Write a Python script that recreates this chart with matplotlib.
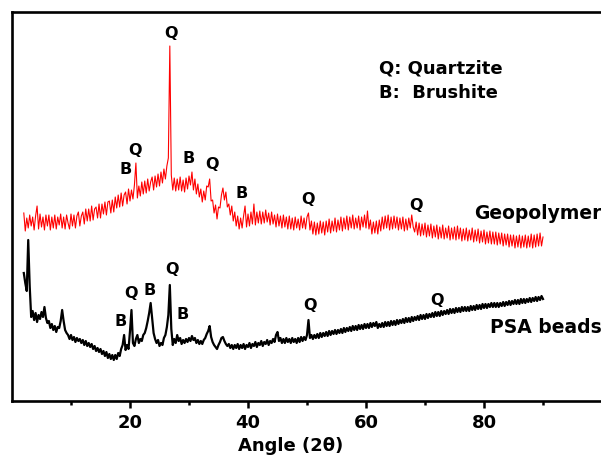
import matplotlib
matplotlib.use("Agg")
import matplotlib.pyplot as plt
import numpy as np

plt.rcParams['font.family'] = ['DejaVu Sans']

# ---------------- data (2theta in degrees, intensity in arbitrary units) -------------
# measurement grid: 2.0 .. 90.0 deg, 0.25 deg step (353 points)
two_theta = np.arange(2.0, 90.001, 0.25)

geo_int = [
    188, 170, 183, 173, 186, 175, 184, 171, 185, 195, 172, 187, 174, 184, 171, 186, 175, 186, 171, 184,  # 2-7
    173, 186, 172, 184, 176, 187, 173, 184, 172, 186, 178, 172, 187, 175, 186, 173, 185, 189, 175, 185,  # 7-12
    189, 177, 192, 180, 192, 180, 195, 181, 192, 194, 183, 197, 183, 197, 187, 199, 186, 199, 200, 188,  # 12-17
    201, 189, 204, 193, 206, 194, 208, 195, 206, 209, 197, 212, 200, 211, 202, 216, 238, 203, 215, 205,  # 17-22
    219, 207, 220, 208, 222, 210, 219, 224, 211, 225, 214, 227, 215, 229, 218, 232, 222, 235, 243, 355,  # 22-27
    226, 211, 223, 210, 222, 211, 224, 210, 221, 209, 223, 212, 225, 216, 229, 211, 222, 207, 217, 204,  # 27-32
    212, 199, 210, 201, 215, 214, 222, 200, 201, 188, 196, 182, 194, 193, 206, 213, 201, 209, 194, 197,  # 32-37
    186, 195, 180, 189, 175, 185, 172, 183, 173, 185, 195, 174, 187, 175, 189, 177, 197, 176, 189, 178,  # 37-42
    190, 177, 189, 178, 191, 179, 188, 176, 189, 177, 186, 174, 187, 175, 185, 173, 186, 174, 184, 172,  # 42-47
    185, 172, 183, 171, 184, 173, 182, 171, 185, 173, 183, 172, 184, 188, 171, 180, 167, 179, 166, 178,  # 47-52
    167, 180, 168, 179, 166, 180, 169, 182, 168, 180, 170, 183, 169, 181, 171, 184, 170, 183, 172, 185,  # 52-57
    171, 184, 173, 186, 172, 183, 173, 185, 171, 184, 174, 186, 173, 190, 172, 181, 167, 179, 168, 180,  # 57-62
    167, 181, 170, 184, 172, 185, 173, 186, 171, 184, 172, 185, 173, 184, 171, 183, 172, 184, 170, 182,  # 62-67
    171, 183, 173, 186, 174, 169, 179, 166, 178, 165, 177, 166, 178, 164, 176, 165, 177, 163, 175, 164,  # 67-72
    176, 162, 174, 163, 176, 162, 173, 163, 175, 161, 173, 162, 174, 161, 175, 162, 173, 160, 172, 161,  # 72-77
    173, 160, 171, 161, 173, 159, 171, 160, 172, 158, 170, 159, 171, 157, 169, 158, 170, 157, 169, 157,  # 77-82
    169, 156, 168, 157, 168, 155, 167, 156, 167, 154, 166, 155, 166, 153, 165, 154, 166, 153, 165, 154,  # 82-87
    166, 153, 165, 154, 167, 153, 166, 154, 167, 155, 168, 155, 164,                                    # 87-90
]

psa_int = [
    128, 118, 110, 161, 115, 84, 90, 81, 88, 79, 86, 82, 89, 84, 94, 83, 78, 80, 73, 77,            # 2-7
    71, 75, 69, 74, 73, 80, 91, 80, 71, 68, 66, 62, 66, 61, 64, 59, 63, 60, 62, 58,                 # 7-12
    61, 56, 60, 55, 58, 54, 57, 52, 55, 50, 53, 49, 52, 47, 50, 45, 49, 43, 47, 42,                 # 12-17
    46, 41, 46, 42, 48, 45, 52, 56, 66, 51, 56, 52, 70, 91, 58, 55, 62, 66, 58, 62,                 # 17-22
    60, 66, 68, 73, 80, 88, 98, 83, 68, 62, 58, 61, 55, 58, 56, 63, 66, 74, 86, 116,                # 22-27
    72, 56, 62, 58, 66, 60, 63, 57, 61, 58, 62, 59, 63, 60, 65, 61, 63, 58, 61, 57,                 # 27-32
    60, 57, 61, 63, 67, 70, 75, 64, 59, 56, 54, 52, 56, 59, 63, 64, 60, 57, 55, 57,                 # 32-37
    53, 56, 52, 56, 53, 57, 52, 56, 53, 57, 52, 56, 54, 58, 53, 57, 55, 59, 54, 58,                 # 37-42
    56, 60, 55, 59, 57, 61, 56, 60, 58, 62, 59, 66, 69, 60, 63, 58, 62, 58, 63, 59,                 # 42-47
    62, 58, 63, 59, 62, 58, 63, 59, 64, 60, 64, 61, 66, 81, 63, 66, 62, 66, 63, 67,                 # 47-52
    63, 68, 64, 68, 65, 69, 65, 70, 66, 70, 67, 71, 67, 71, 68, 72, 68, 73, 69, 73,                 # 52-57
    70, 74, 70, 75, 71, 75, 71, 76, 72, 76, 72, 77, 73, 77, 73, 78, 74, 78, 75, 79,                 # 57-62
    73, 77, 74, 78, 74, 79, 75, 79, 75, 80, 76, 80, 76, 81, 77, 81, 78, 82, 78, 83,                 # 62-67
    79, 83, 79, 84, 80, 84, 81, 85, 81, 86, 82, 86, 82, 87, 83, 87, 84, 88, 84, 89,                 # 67-72
    85, 89, 85, 90, 86, 90, 87, 91, 87, 92, 88, 92, 88, 93, 89, 93, 89, 94, 90, 94,                 # 72-77
    90, 94, 90, 95, 91, 95, 91, 96, 92, 96, 92, 97, 93, 97, 93, 97, 94, 98, 94, 98,                 # 77-82
    94, 98, 94, 98, 95, 99, 95, 99, 96, 100, 96, 100, 97, 101, 97, 101, 97, 102, 98, 102,           # 82-87
    98, 102, 99, 103, 99, 103, 100, 104, 100, 104, 101, 105, 102,                                   # 87-90
]

x_ticks_major = [20, 40, 60, 80]
x_ticks_minor = [10, 30, 50, 70, 90]

geo_marks = [("Q", 26.95, 363), ("B", 19.2, 227), ("Q", 20.9, 246), ("B", 30.0, 238),
             ("Q", 33.9, 232), ("B", 39.0, 203), ("Q", 50.2, 197), ("Q", 68.5, 191)]
psa_marks = [("B", 18.4, 75), ("Q", 20.2, 103), ("B", 23.3, 106), ("Q", 27.1, 127),
             ("B", 28.9, 82), ("Q", 50.5, 91), ("Q", 72.0, 96)]

# ---------------- figure ----------------
fig = plt.figure(figsize=(6.01, 4.57), dpi=100)
W, H = 601, 457
ax = fig.add_axes([12 / W, (H - 401) / H, 5.9 * 101 / W, 389 / H])

ax.plot(two_theta, geo_int, color='#ff0000', lw=0.8)
ax.plot(two_theta, psa_int, color='black', lw=1.6)

ax.set_xlim(0, 101)
ax.set_ylim(0, 389)
ax.set_yticks([])
ax.set_xticks(x_ticks_major)
ax.set_xticks(x_ticks_minor, minor=True)
ax.tick_params(axis='x', which='major', direction='out', length=5, width=1.8,
               labelsize=13, pad=4)
ax.tick_params(axis='x', which='minor', direction='out', length=3, width=1.8)
for lab in ax.get_xticklabels():
    lab.set_fontweight('bold')
for sp in ax.spines.values():
    sp.set_linewidth(1.9)

ax.set_xlabel("Angle (2θ)", fontsize=13, fontweight='bold')
ax.xaxis.set_label_coords((291 - 12) / (5.9 * 101), (401 - 437) / 389)

for t, x, y in geo_marks + psa_marks:
    ax.text(x, y, t, ha='center', va='baseline', fontsize=11.5, fontweight='bold')

ax.text(62.2, 328, "Q: Quartzite", ha='left', va='baseline', fontsize=13, fontweight='bold')
ax.text(62.2, 303, "B:  Brushite", ha='left', va='baseline', fontsize=13, fontweight='bold')
ax.text(78.3, 182, "Geopolymer", ha='left', va='baseline', fontsize=13.5, fontweight='bold',
        clip_on=False)
ax.text(81.0, 68, "PSA beads", ha='left', va='baseline', fontsize=13.5, fontweight='bold',
        clip_on=False)

fig.savefig("out.png", dpi=100)
